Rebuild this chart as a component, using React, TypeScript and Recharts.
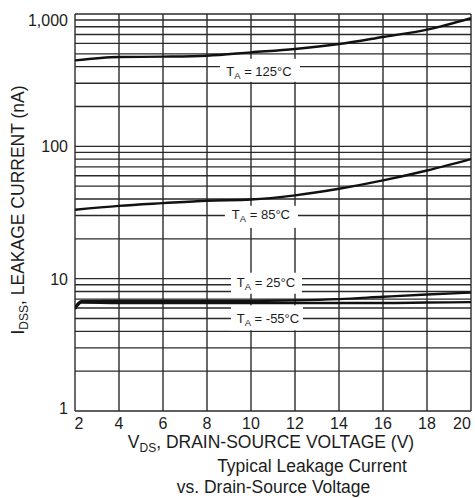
import React from 'react';
import { LineChart, Line, XAxis, YAxis, ReferenceLine, ReferenceDot } from 'recharts';

// X values (V_DS, volts)
const vdsMain = [2, 4, 6, 8, 10, 12, 14, 16, 18, 20];
const vdsLow = [2, 2.3, 4, 6, 8, 10, 12, 14, 16, 18, 20];

// Leakage current (nA) per temperature
const i125 = [446, 473, 476, 484, 513, 544, 593, 670, 761, 930];
const i85 = [33.2, 35.5, 37.2, 38.8, 39.6, 42.6, 47.8, 55.3, 65.7, 80.2];
const i25 = [6.1, 6.75, 6.78, 6.78, 6.78, 6.8, 6.85, 7.0, 7.3, 7.6, 7.85];
const iM55 = [5.9, 6.6, 6.55, 6.55, 6.55, 6.55, 6.55, 6.55, 6.55, 6.6, 6.65];

// Axis ticks
const xTicks = [2, 4, 6, 8, 10, 12, 14, 16, 18, 20];
const yTicks = [1, 10, 100, 1000];
const yGrid = [1, 2, 3, 4, 5, 6, 7, 8, 9, 10, 20, 30, 40, 50, 60, 70, 80, 90, 100, 200, 300, 400, 500, 600, 700, 800, 900, 1000];

// Curve labels: text and anchor (data coords)
const labelTemps = ['125°C', '85°C', '25°C', '-55°C'];
const labelX = [10.36, 10.45, 10.68, 10.77];
const labelY = [372, 30.9, 9.48, 5.02];

const boxes = [
  { l: -39, r: 41, t: -12, b: 11 },
  { l: -36, r: 37, t: -8, b: 14 },
  { l: -35, r: 36, t: -9, b: 12 },
  { l: -37, r: 35, t: -13, b: 12 },
];

const toData = (xs: number[], ys: number[]) => xs.map((x, i) => ({ x, y: ys[i] }));
const d125 = toData(vdsMain, i125);
const d85 = toData(vdsMain, i85);
const d25 = toData(vdsLow, i25);
const dM55 = toData(vdsLow, iM55);

const FONT = '"Liberation Sans", Arial, sans-serif';
const TEXT = '#1c1c1c';
const GRID = '#2a2a2a';

const XTick = (props: any) => {
  const { x, y, payload } = props;
  let dx = 0;
  if (payload.value === 2) dx = 4;
  if (payload.value === 20) dx = -5;
  return (
    <text x={x + dx} y={y + 16} textAnchor="middle" fontSize={16} fill={TEXT} fontFamily={FONT}>
      {payload.value}
    </text>
  );
};

const YTick = (props: any) => {
  const { x, y, payload } = props;
  let dy = 0;
  if (payload.value === 1000) dy = 6;
  if (payload.value === 1) dy = -3;
  return (
    <text x={x} y={y + dy + 6} textAnchor="end" fontSize={16} fill={TEXT} fontFamily={FONT}>
      {Number(payload.value).toLocaleString('en-US')}
    </text>
  );
};

const makeLabel = (i: number) => (props: any) => {
  const { cx, cy } = props;
  const b = boxes[i];
  return (
    <g>
      <rect x={cx + b.l} y={cy + b.t} width={b.r - b.l} height={b.b - b.t} fill="#ffffff" />
      <text x={cx} y={cy + 5} textAnchor="middle" fontSize={13} fill={TEXT} fontFamily={FONT}>
        T<tspan fontSize={9.5} dy={3}>A</tspan>
        <tspan dy={-3}>{' = ' + labelTemps[i]}</tspan>
      </text>
    </g>
  );
};

export default function App() {
  return (
    <div style={{ position: 'absolute', left: 0, top: 0, width: 475, height: 498, background: '#ffffff', fontFamily: FONT }}>
      <LineChart width={475} height={498} margin={{ top: 14, right: 4, bottom: 57, left: 0 }}>
        <XAxis
          type="number"
          dataKey="x"
          domain={[2, 20]}
          ticks={xTicks}
          axisLine={false}
          tickLine={false}
          tickSize={0}
          height={30}
          tick={<XTick />}
          allowDataOverflow
        />
        <YAxis
          type="number"
          scale="log"
          domain={[1, 1000]}
          ticks={yTicks}
          axisLine={false}
          tickLine={false}
          tickSize={0}
          tickMargin={7}
          width={75}
          tick={<YTick />}
          allowDataOverflow
        />
        {yGrid.map((v) => (
          <ReferenceLine key={'h' + v} y={v} stroke={GRID} strokeWidth={1.4} ifOverflow="visible" />
        ))}
        {xTicks.map((v) => (
          <ReferenceLine key={'v' + v} x={v} stroke={GRID} strokeWidth={1.4} ifOverflow="visible" />
        ))}
        <Line data={d125} dataKey="y" type="monotone" stroke="#111" strokeWidth={2.4} dot={false} isAnimationActive={false} />
        <Line data={d85} dataKey="y" type="monotone" stroke="#111" strokeWidth={2.4} dot={false} isAnimationActive={false} />
        <Line data={d25} dataKey="y" type="monotone" stroke="#111" strokeWidth={2.4} dot={false} isAnimationActive={false} />
        <Line data={dM55} dataKey="y" type="monotone" stroke="#111" strokeWidth={2.4} dot={false} isAnimationActive={false} />
        {labelTemps.map((t, i) => (
          <ReferenceDot key={t} x={labelX[i]} y={labelY[i]} r={0} shape={makeLabel(i)} ifOverflow="visible" />
        ))}
      </LineChart>
      <svg width={475} height={498} style={{ position: 'absolute', left: 0, top: 0, pointerEvents: 'none' }}>
        <text x={18} y={210} transform="rotate(-90 18 210)" dy={6} textAnchor="middle" fontSize={17.5} fill={TEXT} fontFamily={FONT}>
          I<tspan fontSize={12} dy={4}>DSS</tspan>
          <tspan dy={-4}>, LEAKAGE CURRENT (nA)</tspan>
        </text>
        <text x={271} y={448} textAnchor="middle" fontSize={17.5} fill={TEXT} fontFamily={FONT}>
          V<tspan fontSize={12} dy={4}>DS</tspan>
          <tspan dy={-4}>, DRAIN-SOURCE VOLTAGE (V)</tspan>
        </text>
        <text x={312} y={472} textAnchor="middle" fontSize={17.5} fill={TEXT} fontFamily={FONT}>
          Typical Leakage Current
        </text>
        <text x={273.5} y={493} textAnchor="middle" fontSize={17.5} fill={TEXT} fontFamily={FONT}>
          vs. Drain-Source Voltage
        </text>
      </svg>
    </div>
  );
}
